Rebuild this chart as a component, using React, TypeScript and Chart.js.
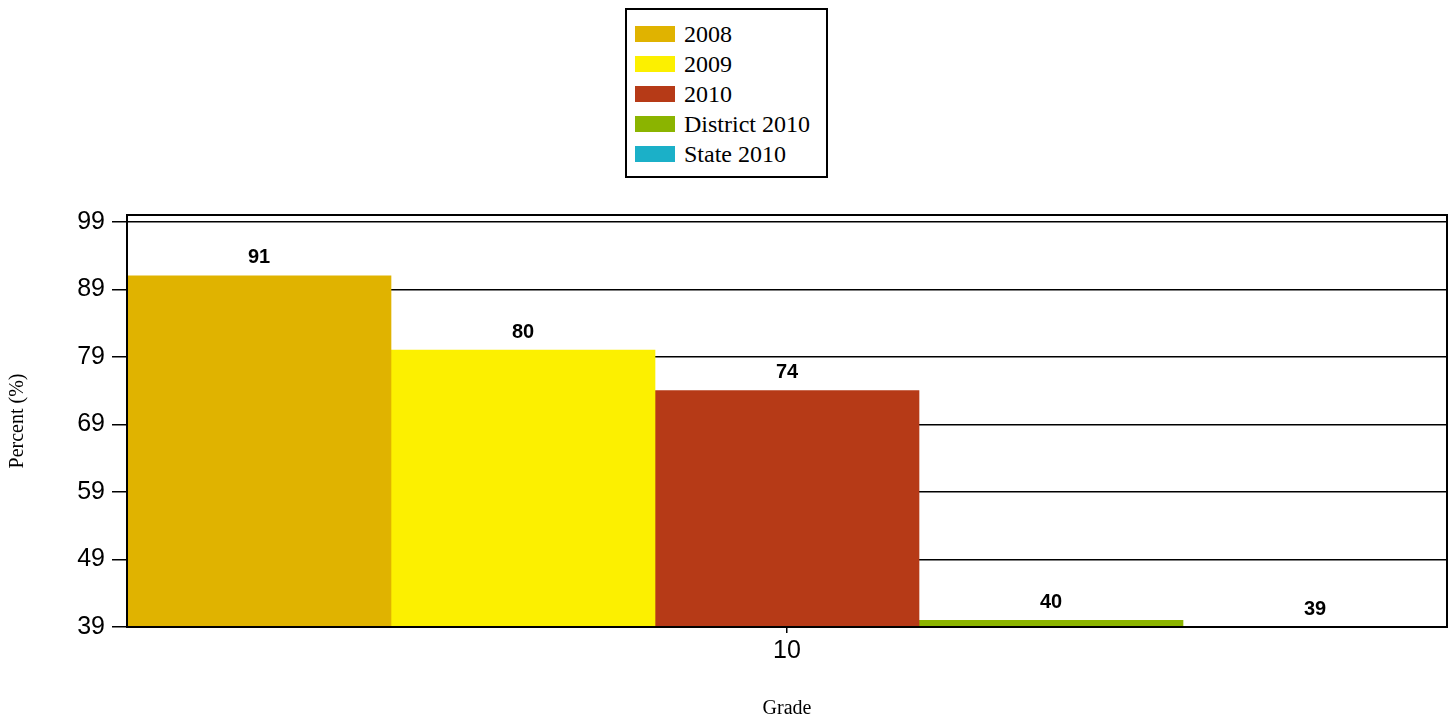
import React, { useEffect, useRef } from "react";
import { Chart, registerables } from "chart.js";

Chart.register(...registerables);

const categories = ["10"];
const seriesNames = ["2008", "2009", "2010", "District 2010", "State 2010"];
const seriesValues = [[91], [80], [74], [40], [39]];
const seriesColors = ["#E0B300", "#FCF000", "#B63A17", "#8BB400", "#1BB0C8"];
const yTickValues = [39, 49, 59, 69, 79, 89, 99];
const yMin = 39;
const yMax = 100;

const W = 1453;
const H = 719;

const valueLabelPlugin = {
  id: "valueLabels",
  afterDatasetsDraw(chart: any) {
    const ctx = chart.ctx;
    ctx.save();
    ctx.font = "bold 20px 'Liberation Sans', Arial, sans-serif";
    ctx.fillStyle = "#000";
    ctx.textAlign = "center";
    ctx.textBaseline = "middle";
    chart.data.datasets.forEach((ds: any, i: number) => {
      const meta = chart.getDatasetMeta(i);
      meta.data.forEach((el: any, j: number) => {
        ctx.fillText(String(ds.data[j]), el.x, el.y - 18);
      });
    });
    ctx.restore();
  },
};

const framePlugin = {
  id: "frame",
  afterDatasetsDraw(chart: any) {
    const { left, top, right, bottom } = chart.chartArea;
    const ctx = chart.ctx;
    ctx.save();
    ctx.strokeStyle = "#000";
    ctx.lineWidth = 2;
    ctx.strokeRect(left, top, right - left, bottom - top);
    ctx.restore();
  },
};

export default function App() {
  const canvasRef = useRef<HTMLCanvasElement | null>(null);

  useEffect(() => {
    if (!canvasRef.current) return;
    const chart = new Chart(canvasRef.current, {
      type: "bar",
      data: {
        labels: categories,
        datasets: seriesNames.map((name, i) => ({
          label: name,
          data: seriesValues[i],
          backgroundColor: seriesColors[i],
          borderWidth: 0,
          barPercentage: 1,
          categoryPercentage: 1,
        })),
      },
      options: {
        animation: false,
        responsive: false,
        devicePixelRatio: 1,
        layout: { padding: { left: 0, right: 6, top: 215, bottom: 0 } },
        plugins: {
          legend: { display: false },
          tooltip: { enabled: false },
        },
        scales: {
          x: {
            offset: true,
            grid: {
              display: true,
              drawOnChartArea: false,
              drawTicks: true,
              tickLength: 6,
              color: "#000",
              lineWidth: 1.5,
              offset: false,
            },
            border: { display: true, color: "#000", width: 2 },
            ticks: {
              color: "#000",
              padding: 3,
              font: { family: "'Liberation Sans', Arial, sans-serif", size: 25 },
            },
            title: {
              display: true,
              text: "Grade",
              color: "#000",
              padding: { top: 0, bottom: -2 },
              font: { family: "'Liberation Serif', 'Times New Roman', serif", size: 20 },
            },
            afterFit(scale: any) {
              scale.height = H - 627;
            },
          },
          y: {
            min: yMin,
            max: yMax,
            grid: {
              color: "#000",
              lineWidth: 1.5,
              tickLength: 15,
              drawTicks: true,
            },
            border: { display: true, color: "#000", width: 2 },
            ticks: {
              color: "#000",
              padding: 7,
              font: { family: "'Liberation Sans', Arial, sans-serif", size: 25 },
            },
            afterBuildTicks(scale: any) {
              scale.ticks = yTickValues.map((v) => ({ value: v }));
            },
            title: {
              display: true,
              text: "Percent (%)",
              color: "#000",
              padding: { top: 6, bottom: 0 },
              font: { family: "'Liberation Serif', 'Times New Roman', serif", size: 20 },
            },
            afterFit(scale: any) {
              scale.width = 127;
            },
          },
        },
      },
      plugins: [valueLabelPlugin, framePlugin],
    } as any);
    return () => chart.destroy();
  }, []);

  return (
    <div style={{ position: "absolute", left: 0, top: 0, width: W, height: H, background: "#fff" }}>
      <canvas ref={canvasRef} width={W} height={H} style={{ display: "block", width: W, height: H }} />
      <div
        style={{
          position: "absolute",
          left: 625,
          top: 8,
          width: 203,
          height: 170,
          boxSizing: "border-box",
          border: "2px solid #000",
          background: "#fff",
        }}
      >
        {seriesNames.map((name, i) => (
          <div
            key={name}
            style={{
              position: "absolute",
              left: 8,
              top: 9 + 30 * i,
              height: 30,
              display: "flex",
              alignItems: "center",
              whiteSpace: "nowrap",
              fontFamily: "'Liberation Serif', 'Times New Roman', serif",
              fontSize: 24,
              lineHeight: "30px",
              color: "#000",
            }}
          >
            <span
              style={{
                display: "inline-block",
                width: 40,
                height: 16,
                background: seriesColors[i],
                marginRight: 9,
              }}
            />
            {name}
          </div>
        ))}
      </div>
    </div>
  );
}
